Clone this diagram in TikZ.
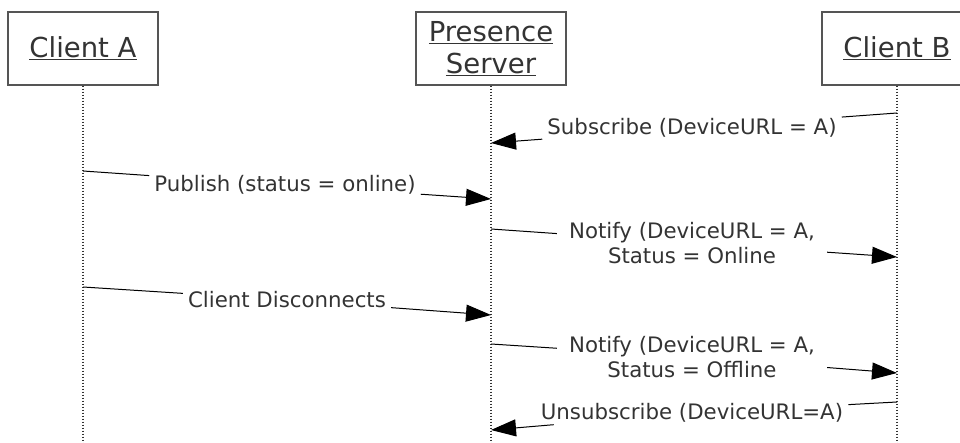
\documentclass[tikz,border=0pt]{standalone}
\usepackage{fontspec}
\setmainfont{DejaVu Sans}
\usetikzlibrary{arrows.meta}
\definecolor{ink}{HTML}{333333}
\definecolor{boxline}{HTML}{555555}
\tikzset{
  actor/.style={draw=boxline, line width=1.4pt, minimum width=150pt, minimum height=73pt,
    text=ink, align=center, font=\fontsize{27.5}{32}\selectfont, inner sep=0pt},
  lifeline/.style={draw=ink, line width=1.5pt, dash pattern=on 1.5pt off 1.5pt},
  msglabel/.style={text=ink, align=center, font=\fontsize{21.3}{25}\selectfont, inner xsep=5pt, inner ysep=2pt},
  widelabel/.style={msglabel, inner xsep=12pt},
  msg/.style={draw=black, line width=1pt, -{Triangle[length=25pt, width=17pt]}}
}
\begin{document}
\begin{tikzpicture}[x=1pt, y=-1pt]
\useasboundingbox (0,0) rectangle (960,443);
\clip (0,0) rectangle (960,443);
% actors
\node[actor] (A) at (83,48.5) {\underline{Client A}};
\node[actor] (P) at (491,48.5) {\underline{Presence}\\\underline{Server}};
\node[actor] (B) at (897,48.5) {\underline{Client B}};
% lifelines
\coordinate (Aend) at (83,443);
\coordinate (Pend) at (491,443);
\coordinate (Bend) at (897,443);
\draw[lifeline] (A.south) -- (Aend);
\draw[lifeline] (P.south) -- (Pend);
\draw[lifeline] (B.south) -- (Bend);
% message points
\coordinate (b1) at (897,113);
\coordinate (p1) at (491,143);
\coordinate (a2) at (83,171);
\coordinate (p2) at (491,199);
\coordinate (p3) at (491,229);
\coordinate (b3) at (897,257);
\coordinate (a4) at (83,287);
\coordinate (p4) at (491,315);
\coordinate (p5) at (491,344);
\coordinate (b5) at (897,373);
\coordinate (b6) at (897,402);
\coordinate (p6) at (491,430);
% labels
\node[msglabel] (l1) at (692,128) {Subscribe (DeviceURL = A)};
\node[msglabel] (l2) at (285,185) {Publish (status = online)};
\node[widelabel] (l3) at (692,243) {Notify (DeviceURL = A,\\Status = Online};
\node[msglabel] (l4) at (287,300) {Client Disconnects};
\node[widelabel] (l5) at (692,357) {Notify (DeviceURL = A,\\Status = Offline};
\node[msglabel] (l6) at (692,413) {Unsubscribe (DeviceURL=A)};
% messages
\draw[msg] (b1) -- (l1) -- (p1);
\draw[msg] (a2) -- (l2) -- (p2);
\draw[msg] (p3) -- (l3) -- (b3);
\draw[msg] (a4) -- (l4) -- (p4);
\draw[msg] (p5) -- (l5) -- (b5);
\draw[msg] (b6) -- (l6) -- (p6);
\end{tikzpicture}
\end{document}
